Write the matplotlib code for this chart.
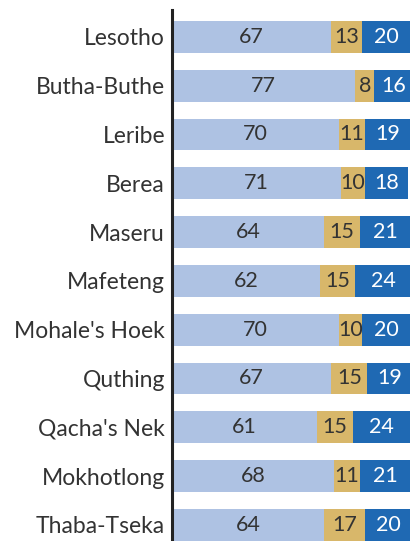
import matplotlib.pyplot as plt
import numpy as np

# Donnees
districts = ['Lesotho', 'Butha-Buthe', 'Leribe', 'Berea', 'Maseru', 'Mafeteng',
             "Mohale's Hoek", 'Quthing', "Qacha's Nek", 'Mokhotlong', 'Thaba-Tseka']
part1 = [67, 77, 70, 71, 64, 62, 70, 67, 61, 68, 64]
part2 = [13, 8, 11, 10, 15, 15, 10, 15, 15, 11, 17]
part3 = [20, 16, 19, 18, 21, 24, 20, 19, 24, 21, 20]

colors = ['#aec2e3', '#d8b76a', '#1f69b3']
txt_colors = ['#333333', '#333333', 'white']

plt.rcParams['font.family'] = ['Lato', 'DejaVu Sans']

fig = plt.figure(figsize=(4.12, 5.41), dpi=100)
ax = fig.add_axes([172 / 412, 0, 238 / 412, 1 - 10 / 541])

y = np.arange(len(districts))
left = np.zeros(len(districts))
for vals, c, tc in zip([part1, part2, part3], colors, txt_colors):
    vals = np.array(vals)
    ax.barh(y, vals, left=left, height=0.65, color=c)
    for yi, l, v in zip(y, left, vals):
        ax.text(l + v / 2, yi, str(v), ha='center', va='center',
                fontsize=15.5, color=tc)
    left = left + vals

ax.set_xlim(0, 100)
ax.set_ylim(len(districts) - 1 + 0.33, -0.55)
ax.set_yticks(y)
ax.set_yticklabels(districts, fontsize=16.5, color='#333333')
ax.tick_params(axis='y', length=0, pad=5)
ax.set_xticks([])
for s in ['top', 'right', 'bottom']:
    ax.spines[s].set_visible(False)
ax.spines['left'].set_linewidth(2.2)
ax.spines['left'].set_color('#222222')

plt.savefig('out.png', dpi=100)
